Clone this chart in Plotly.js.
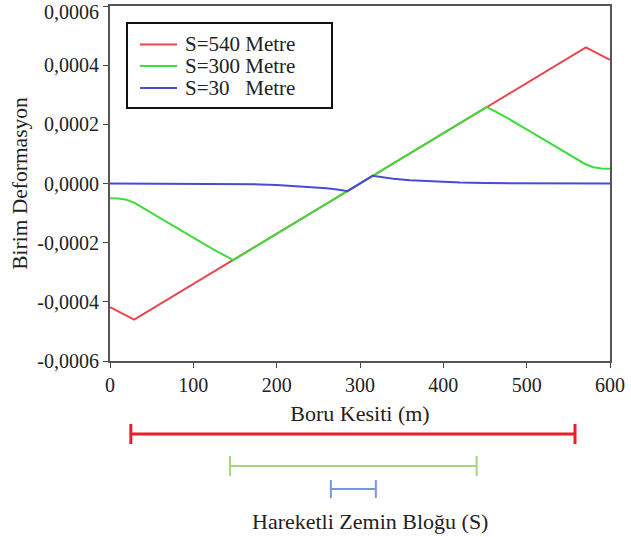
<!DOCTYPE html>
<html>
<head>
<meta charset="utf-8">
<script src="https://cdn.plot.ly/plotly-3.0.1.min.js"></script>
<style>html,body{margin:0;padding:0;background:#fff;}#chart{width:631px;height:537px;}</style>
</head>
<body>
<div id="chart"></div>
<script>
// ---- data ----
var seriesNames = ['S=540 Metre', 'S=300 Metre', 'S=30\u00a0\u00a0\u00a0Metre'];

var redX = [0, 29, 571, 600];
var redY = [-0.000418, -0.00046, 0.00046, 0.000418];

var greenX = [0, 10, 20, 30, 40, 50, 60, 75, 100, 125, 148, 452, 475, 500, 525, 540, 550, 560, 570, 580, 590, 600];
var greenY = [-0.000050, -0.000051, -0.000055, -0.000066, -0.000083, -0.000100, -0.000117, -0.000142, -0.000183, -0.000224, -0.000259,
              0.000259, 0.000224, 0.000183, 0.000142, 0.000117, 0.000100, 0.000083, 0.000066, 0.000055, 0.000051, 0.000050];

var blueX = [0, 100, 150, 180, 200, 220, 240, 260, 275, 285, 315, 325, 340, 360, 380, 400, 420, 450, 500, 600];
var blueY = [0, -0.0000005, -0.0000015, -0.000003, -0.000005, -0.000008, -0.000011, -0.000016, -0.000021, -0.000026,
             0.000026, 0.000021, 0.000016, 0.000011, 0.000008, 0.000005, 0.000003, 0.0000015, 0.0000005, 0];

var xTickVals = [0, 100, 200, 300, 400, 500, 600];
var yTickVals = [-0.0006, -0.0004, -0.0002, 0, 0.0002, 0.0004, 0.0006];
var yTickText = ['-0,0006', '-0,0004', '-0,0002', '0,0000', '0,0002', '0,0004', '0,0006'];

// moving ground block extents (Boru Kesiti, m)
var blockStart = [25, 144, 265];
var blockEnd = [558, 440, 319];

// ---- style ----
var lineColors = ['#e6464e', '#3edc3e', '#4a4ad8'];
var blockColors = ['#e8202a', '#a8d47c', '#7896d8'];
var FONT = 'Liberation Serif, Times New Roman, serif';

var W = 631, H = 537, L = 110, R = 610, T = 6, B = 361;
function px2paperX(p) { return (p - L) / (R - L); }
function px2paperY(p) { return (B - p) / (B - T); }
function data2paperX(v) { return v / 600; }

var traces = [
  {x: redX, y: redY, name: seriesNames[0], mode: 'lines', line: {color: lineColors[0], width: 2}},
  {x: greenX, y: greenY, name: seriesNames[1], mode: 'lines', line: {color: lineColors[1], width: 2}},
  {x: blueX, y: blueY, name: seriesNames[2], mode: 'lines', line: {color: lineColors[2], width: 2}}
];

var shapes = [];
var annotations = [];

// the top tick label sits a little lower than its tick in the reference (it would not fit otherwise)
var yTickTextShown = yTickText.slice();
yTickTextShown[yTickTextShown.length - 1] = '';
annotations.push({xref: 'paper', yref: 'paper', x: px2paperX(101), y: px2paperY(12),
  xanchor: 'right', yanchor: 'middle', showarrow: false, text: yTickText[yTickText.length - 1],
  font: {family: FONT, size: 20, color: '#222'}});

// legend box (manual, to match compact row spacing)
shapes.push({type: 'rect', xref: 'paper', yref: 'paper',
  x0: px2paperX(127), x1: px2paperX(332), y0: px2paperY(23), y1: px2paperY(108),
  line: {color: '#111', width: 2}, fillcolor: '#fff', layer: 'above'});
var legRows = [44.5, 66, 88];
for (var i = 0; i < 3; i++) {
  shapes.push({type: 'line', xref: 'paper', yref: 'paper',
    x0: px2paperX(140), x1: px2paperX(177), y0: px2paperY(legRows[i]), y1: px2paperY(legRows[i]),
    line: {color: lineColors[i], width: 2}, layer: 'above'});
  annotations.push({xref: 'paper', yref: 'paper', x: px2paperX(184), y: px2paperY(legRows[i]),
    xanchor: 'left', yanchor: 'middle', showarrow: false, text: seriesNames[i], height: 20, borderpad: 0,
    font: {family: FONT, size: 21, color: '#222'}});
}

// moving block bars below the axis
var barY = [434, 466, 489];
var barHalf = [10, 10, 9];
var barW = [3, 2, 2];
for (var j = 0; j < 3; j++) {
  var xa = data2paperX(blockStart[j]), xb = data2paperX(blockEnd[j]);
  var yc = px2paperY(barY[j]), yt = px2paperY(barY[j] - barHalf[j]), yb = px2paperY(barY[j] + barHalf[j]);
  shapes.push({type: 'line', xref: 'paper', yref: 'paper', x0: xa, x1: xb, y0: yc, y1: yc, line: {color: blockColors[j], width: barW[j]}});
  shapes.push({type: 'line', xref: 'paper', yref: 'paper', x0: xa, x1: xa, y0: yt, y1: yb, line: {color: blockColors[j], width: barW[j]}});
  shapes.push({type: 'line', xref: 'paper', yref: 'paper', x0: xb, x1: xb, y0: yt, y1: yb, line: {color: blockColors[j], width: barW[j]}});
}
annotations.push({xref: 'paper', yref: 'paper', x: px2paperX(370), y: px2paperY(521),
  xanchor: 'center', yanchor: 'middle', showarrow: false, text: 'Hareketli Zemin Bloğu (S)',
  font: {family: FONT, size: 22, color: '#222'}});

var layout = {
  width: W, height: H,
  margin: {l: L, r: W - R, t: T, b: H - B, pad: 0},
  paper_bgcolor: '#fff', plot_bgcolor: '#fff',
  showlegend: false,
  font: {family: FONT, size: 20, color: '#222'},
  xaxis: {
    range: [0, 600], tickvals: xTickVals, ticks: 'outside', ticklen: 5, tickcolor: '#444', tickwidth: 1,
    showline: true, linecolor: '#555', linewidth: 2, mirror: true, showgrid: false, zeroline: false,
    tickfont: {family: FONT, size: 20, color: '#222'},
    title: {text: 'Boru Kesiti (m)', font: {family: FONT, size: 22, color: '#222'}, standoff: 11},
    automargin: false
  },
  yaxis: {
    range: [-0.0006, 0.0006], tickvals: yTickVals, ticktext: yTickTextShown, ticks: 'outside', ticklen: 5, tickcolor: '#444', tickwidth: 1,
    showline: true, linecolor: '#555', linewidth: 2, mirror: true, showgrid: false, zeroline: false,
    tickfont: {family: FONT, size: 20, color: '#222'},
    title: {text: 'Birim Deformasyon', font: {family: FONT, size: 21.5, color: '#222'}, standoff: 4},
    automargin: false
  },
  shapes: shapes,
  annotations: annotations
};

Plotly.newPlot('chart', traces, layout, {displayModeBar: false, staticPlot: true});
</script>
</body>
</html>
